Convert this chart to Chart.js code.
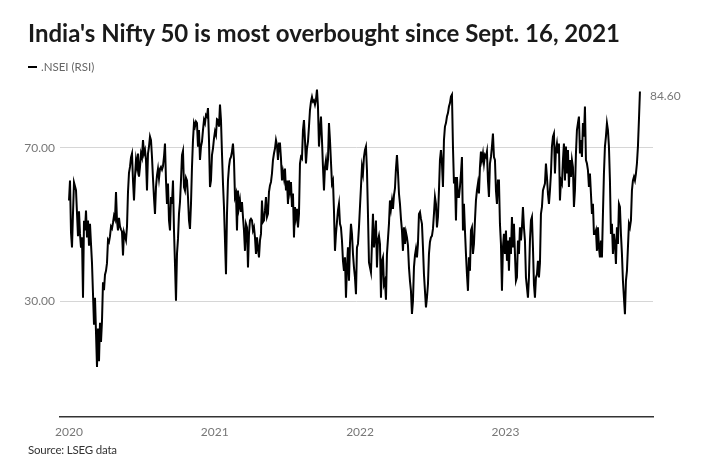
<!DOCTYPE html>
<html>
<head>
<meta charset="utf-8">
<script src="https://cdn.jsdelivr.net/npm/chart.js@4.4.1/dist/chart.umd.min.js"></script>
<style>
  html, body { margin: 0; padding: 0; background: #fff; width: 710px; height: 473px; overflow: hidden; }
  #wrap { position: relative; width: 710px; height: 473px; }
  #chart { position: absolute; left: 0; top: 0; }
  .title { position: absolute; left: 28px; top: 18px; font-family: Lato, sans-serif; font-weight: 700; font-size: 24px; color: #1a1a1a; white-space: nowrap; letter-spacing: 0; }
  .legend { position: absolute; left: 28px; top: 60px; font-family: Lato, sans-serif; font-size: 11.5px; color: #666; white-space: nowrap; display: flex; align-items: center; }
  .legend .sw { display: inline-block; width: 9px; height: 2px; background: #000; margin-right: 4px; }
  .source { position: absolute; left: 28px; top: 443px; font-family: Lato, sans-serif; font-size: 11.5px; color: #333; white-space: nowrap; letter-spacing: -0.2px; }
</style>
</head>
<body>
<div id="wrap">
  <canvas id="chart" width="710" height="473"></canvas>
  <div class="title">India's Nifty 50 is most overbought since Sept. 16, 2021</div>
  <div class="legend"><span class="sw"></span><span>.NSEI (RSI)</span></div>
  <div class="source">Source: LSEG data</div>
</div>
<script>
// ---- data ----
const seriesName = ".NSEI (RSI)";
const firstSession = "2020-01-01";   // date of the first reading
const sessionStepDays = 2.511;       // readings are evenly spaced through the period
const yearLabels = ["2020", "2021", "2022", "2023"];
const yTickValues = [30, 70];
const rsi = [
  // 2020
  56.3, 61.5, 48.0, 44.1, 53.0, 61.0, 60.0, 59.0, 53.0, 47.0,
  53.5, 47.6, 44.0, 46.7, 31.0, 51.0, 48.5, 53.7, 46.7, 51.1,
  44.5, 50.2, 45.0, 40.0, 32.0, 24.0, 31.0, 22.0, 13.0, 23.0,
  14.5, 24.5, 19.5, 25.0, 35.0, 33.0, 37.0, 38.0, 40.0, 46.0,
  45.5, 47.0, 49.5, 49.0, 50.5, 52.3, 51.5, 58.5, 51.0, 48.5,
  51.8, 49.5, 48.8, 48.2, 42.0, 48.0, 47.0, 46.0, 49.5, 58.5,
  63.5, 65.0, 67.5, 68.5, 61.5, 56.3, 62.5, 66.8, 65.0, 68.5,
  62.5, 65.0, 68.5, 67.5, 72.0, 68.5, 69.4, 66.8, 58.9, 68.5,
  70.3, 72.9, 72.0, 67.6, 62.0, 57.0, 52.8, 59.8, 62.8, 64.5,
  62.0,
  64.5, 65.0, 64.3, 65.2, 67.6, 71.1, 61.5, 55.4, 60.7, 51.1,
  48.5, 57.2, 55.4, 61.5, 48.5, 39.8, 30.2, 42.4, 46.3, 52.8,
  55.9, 61.5, 68.1, 69.2, 59.8, 58.9, 62.2, 61.5, 57.2, 51.1,
  48.9, 55.4, 65.0, 72.0, 76.4, 75.5, 76.8, 76.4, 70.3, 74.6,
  66.8, 70.3, 71.6, 74.6, 77.2, 76.4, 78.5, 78.1, 80.3, 72.0,
  59.8, 61.5, 68.1, 69.8, 72.4, 74.2, 73.3, 77.4, 77.2, 75.5,
  81.2, 77.2, 68.5, 60.7, 54.6, 45.9, 37.1, 52.8, 61.5, 65.0,
  67.0, 67.6, 69.0, 71.1, 66.8, 57.2, 58.1, 48.5, 58.9, 54.6,
  56.3, 53.3, 55.9, 52.0, 48.5, 43.2, 50.2, 49.3, 38.9, 47.6,
  51.1, 51.5, 51.1, 48.5, 49.3, 46.7, 42.4, 46.7, 43.7, 41.5,
  45.9, 47.6, 56.3, 50.7, 51.1, 53.7, 57.2, 52.0, 52.8, 58.5,
  60.2, 61.1, 63.3, 66.8, 68.5, 69.8, 72.0, 70.7, 66.8, 71.1,
  71.1, 67.2, 61.5, 63.7, 62.0, 64.6, 58.9, 61.5, 55.4, 61.5,
  58.9, 61.1, 54.6, 58.1, 46.7, 54.6, 52.0, 54.1, 49.3, 52.8,
  65.9, 67.6, 67.2, 74.6, 77.2, 72.0, 65.9, 69.8, 71.6, 75.5,
  79.8, 82.0, 83.2, 82.0, 82.3, 81.2, 82.5, 85.1, 80.7, 70.3,
  74.6, 78.1, 72.0, 65.0, 58.9, 65.0, 66.8, 64.2, 66.8, 76.4,
  72.0, 66.3, 60.7, 61.5, 53.7, 43.2, 47.6, 50.7, 53.7, 55.4,
  50.2, 49.3, 45.9, 40.6, 38.0,
  41.5, 31.0, 38.9, 44.1, 35.4, 45.0, 50.2, 47.6, 42.4, 38.9,
  36.3, 31.9, 44.1, 45.0, 49.3, 54.6, 59.8, 65.0, 63.3, 67.6,
  69.4, 70.3, 64.2, 52.8, 40.2, 38.9, 37.6, 45.0, 52.8, 44.1,
  46.7, 51.1, 38.9, 45.9, 47.1, 45.0, 31.0, 40.6, 41.5, 34.5,
  35.4, 30.5, 42.4, 46.3, 50.2, 56.3, 54.1, 56.3, 54.1, 57.6,
  59.4, 64.6, 68.1, 63.7, 58.1, 55.4, 51.5, 48.5, 43.2, 49.3,
  45.0, 48.0, 46.7, 44.6, 38.9, 35.4, 32.8, 26.8, 30.2, 38.9,
  42.0, 43.7, 41.5, 45.0, 52.8, 53.3, 51.5, 50.2, 44.1, 37.1,
  32.8, 28.5, 31.0, 34.5, 42.4, 45.5, 46.7, 47.1, 48.9, 52.8,
  57.2, 55.4, 49.3, 52.0, 58.9,
  66.8, 69.4, 65.9, 59.8, 72.0, 75.5, 76.4, 78.1, 79.0, 80.7,
  81.6, 83.3, 83.8, 70.3, 60.7, 62.4, 51.1, 62.4, 57.2, 57.2,
  59.8, 63.3, 67.6, 48.5, 55.4, 48.5, 42.4, 37.1, 32.8, 41.5,
  38.0, 48.5, 49.3, 42.4, 45.0, 51.1, 56.3, 58.9, 60.7, 58.1,
  65.0, 69.0, 66.8, 68.5, 65.9, 68.1, 67.6, 69.0, 61.5, 57.2,
  65.9, 67.6, 70.3, 73.7, 67.6, 66.8, 58.9, 55.4, 61.5, 61.5,
  50.2, 45.0, 32.8, 44.1, 47.6, 42.4, 48.5, 40.6, 45.9, 38.0,
  46.7, 42.4, 52.0, 44.1, 50.2, 42.4, 35.4, 36.3, 45.9, 42.4,
  49.3, 45.9, 49.3, 54.6, 49.3, 45.9, 36.3, 33.7, 31.0, 36.3,
  45.9, 51.1, 52.0, 44.1, 34.5, 31.0, 36.3, 37.1, 40.6, 36.3,
  40.0, 52.8, 54.6, 58.9, 59.8, 60.7, 65.9, 62.4, 58.1, 55.4,
  58.9, 63.3, 70.3, 72.9, 73.7, 63.3, 69.4, 71.1, 68.5, 71.1,
  56.3, 61.5, 60.7, 66.8, 71.1, 61.5, 70.3, 63.3, 69.4, 59.8,
  66.8, 62.4, 66.8, 65.0, 54.6, 58.9, 68.5, 74.6, 76.4, 78.1,
  68.5, 72.0, 67.6, 76.4, 72.9, 80.7, 66.8, 65.9, 64.2, 59.8,
  63.3, 58.1, 52.8, 55.4, 47.6, 47.6, 48.5, 43.2, 49.3, 44.1,
  41.5, 45.9, 41.5, 52.8, 63.3, 70.3, 72.9, 76.4, 74.6, 70.3,
  61.5, 47.6, 50.2, 42.4, 47.6, 45.0, 39.8, 49.3, 45.0, 55.4,
  54.6, 47.6, 42.4, 35.4, 31.0, 26.7, 35.4, 38.0, 44.1, 50.2,
  49.3, 51.1, 58.9, 61.5, 62.4, 61.5, 63.3, 65.9, 70.3, 77.2,
  84.6
];

// ---- build the chart ----
const DAY = 86400000;
const t0 = Date.parse(firstSession + "T00:00:00Z");
const points = rsi.map((v, i) => ({ x: i * sessionStepDays, y: v }));
const tickDays = yearLabels.map(y => (Date.parse(y + "-01-01T00:00:00Z") - t0) / DAY);

const FONT = "Lato, 'Open Sans', sans-serif";

const endLabel = {
  id: "endLabel",
  afterDatasetsDraw(chart) {
    const meta = chart.getDatasetMeta(0);
    const p = meta.data[meta.data.length - 1];
    const ctx = chart.ctx;
    ctx.save();
    ctx.font = "12px " + FONT;
    ctx.fillStyle = "#777";
    ctx.textBaseline = "middle";
    ctx.textAlign = "left";
    ctx.fillText(rsi[rsi.length - 1].toFixed(2), p.x + 10, p.y + 5);
    ctx.restore();
  }
};

new Chart(document.getElementById("chart"), {
  type: "line",
  data: {
    datasets: [{
      label: seriesName,
      data: points,
      borderColor: "#000",
      borderWidth: 2,
      pointRadius: 0,
      tension: 0,
      fill: false
    }]
  },
  options: {
    responsive: false,
    animation: false,
    devicePixelRatio: 1,
    layout: { padding: { top: 78.5, right: 57, bottom: 0, left: 0 } },
    plugins: { legend: { display: false }, tooltip: { enabled: false }, title: { display: false } },
    scales: {
      x: {
        type: "linear",
        min: -22.6,
        max: 1466.6,
        grid: { display: false, drawTicks: false },
        border: { display: true, color: "#333", width: 1.5 },
        afterBuildTicks: s => { s.ticks = tickDays.map(v => ({ value: v })); },
        afterFit: s => { s.height = 56; },
        ticks: {
          autoSkip: false, maxRotation: 0, padding: 8,
          color: "#777", font: { family: FONT, size: 12 },
          callback: (v, i) => yearLabels[i]
        }
      },
      y: {
        min: 0,
        max: 88,
        grid: { color: "#d6d6d6", lineWidth: 1, drawTicks: false },
        border: { display: false },
        afterBuildTicks: s => { s.ticks = yTickValues.map(v => ({ value: v })); },
        afterFit: s => { s.width = 60; },
        ticks: {
          padding: 5, color: "#777", font: { family: FONT, size: 12 },
          callback: v => Number(v).toFixed(2)
        }
      }
    }
  },
  plugins: [endLabel]
});
</script>
</body>
</html>
